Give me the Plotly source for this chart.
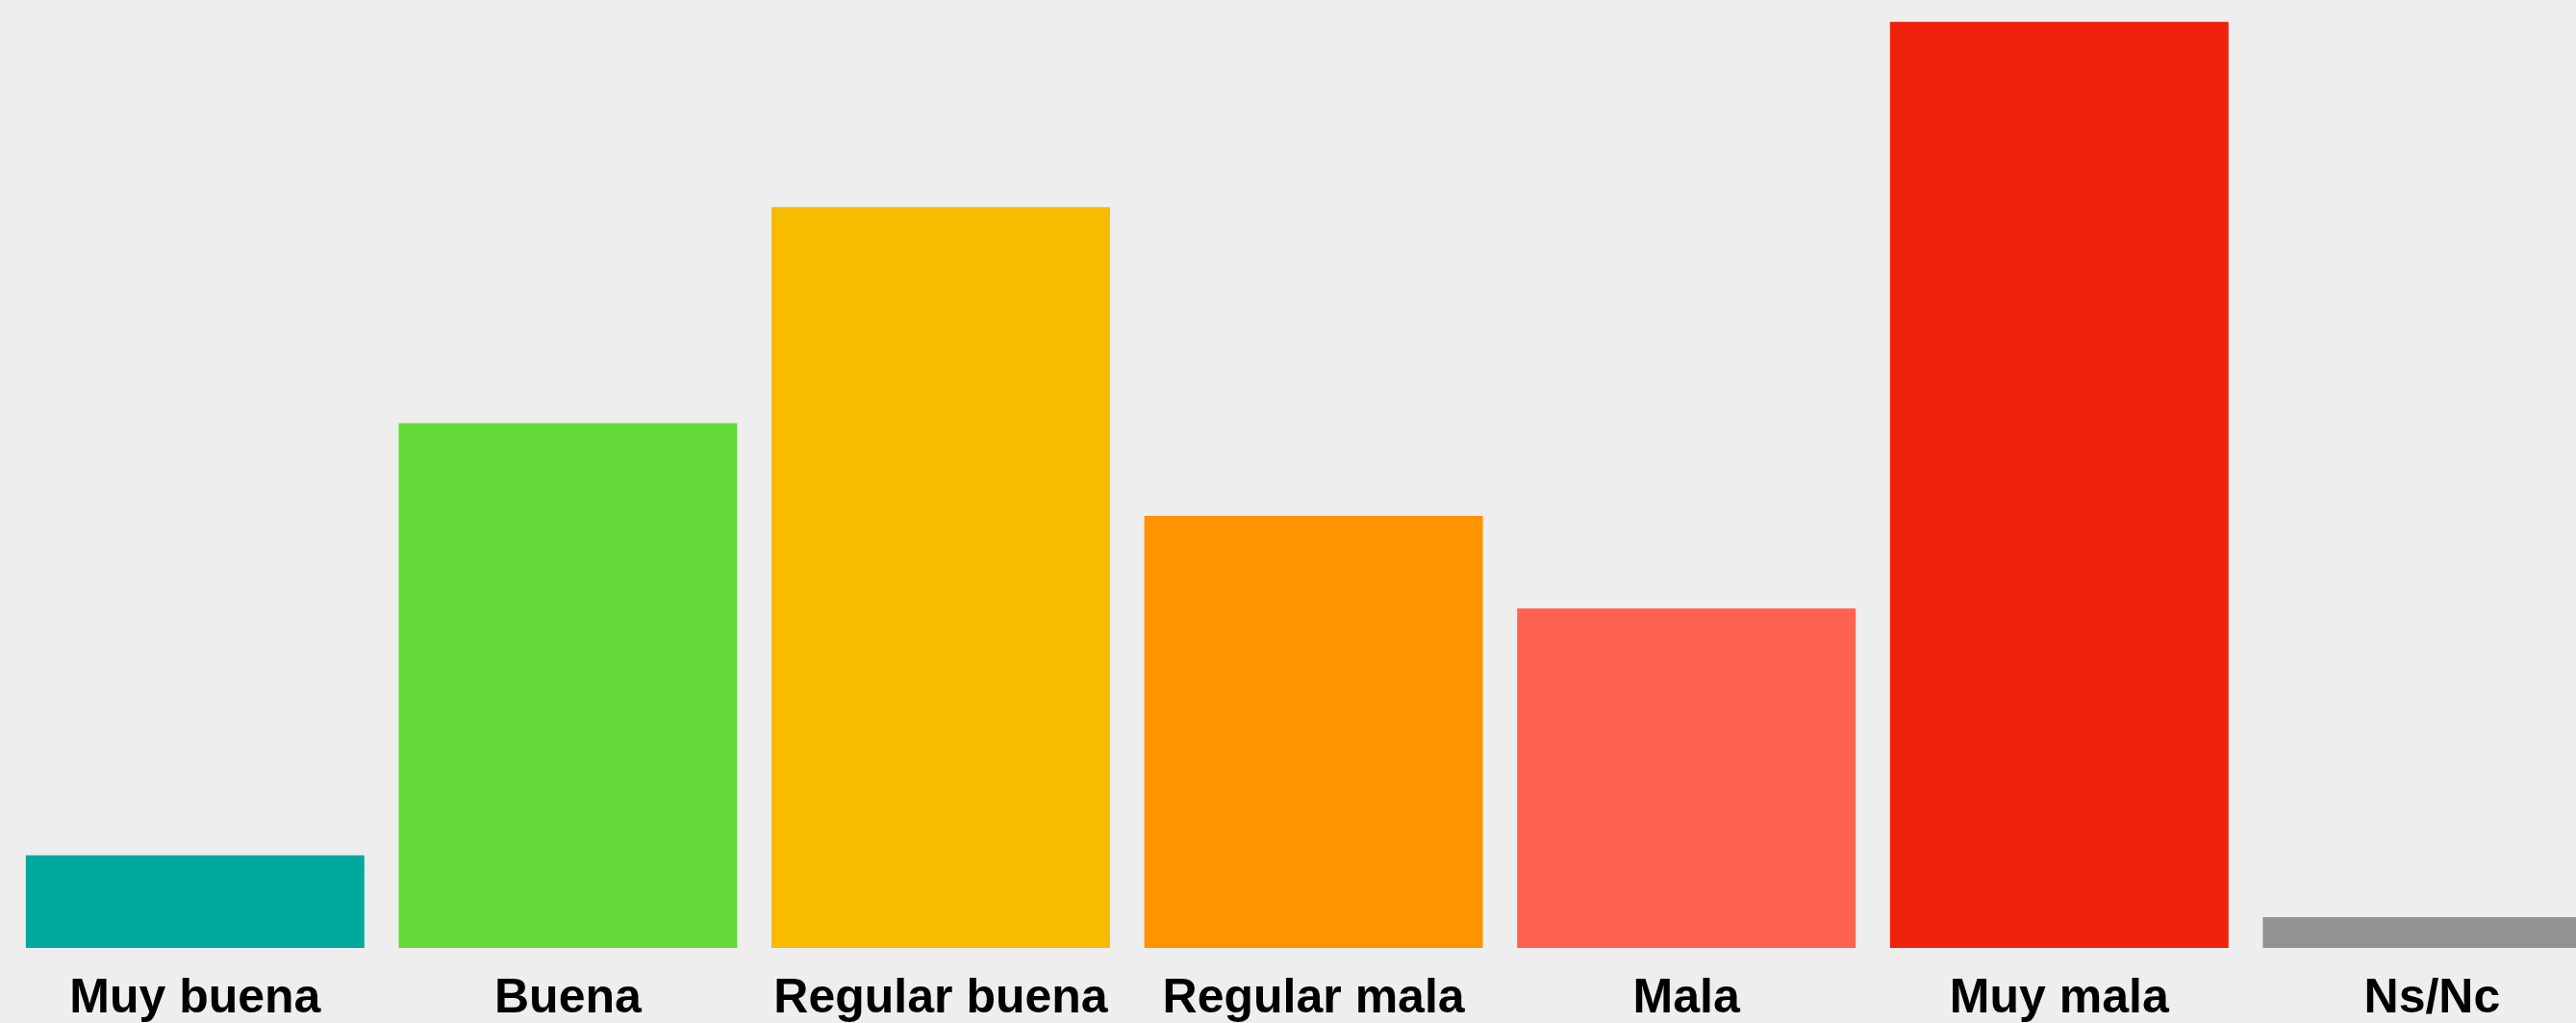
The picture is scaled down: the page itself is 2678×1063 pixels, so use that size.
import plotly.graph_objects as go

# Opinion categories and their share (%)
categories = ["Muy buena", "Buena", "Regular buena", "Regular mala", "Mala", "Muy mala", "Ns/Nc"]
values = [3, 17, 24, 14, 11, 30, 1]
colors = ["#00A99D", "#63DA38", "#F7BB00", "#FF9300", "#FF6250", "#EE220D", "#929292"]

fig = go.Figure(
    go.Bar(
        x=categories,
        y=values,
        marker=dict(color=colors, line=dict(width=0)),
        width=0.908,
        hoverinfo="x+y",
    )
)

fig.update_layout(
    width=2678,
    height=1063,
    margin=dict(l=9, r=0, t=0, b=71),
    paper_bgcolor="#EEEEEE",
    plot_bgcolor="#EEEEEE",
    showlegend=False,
    font=dict(family="Liberation Sans, Arial, sans-serif", color="#000000"),
)
fig.update_xaxes(
    range=[-0.5, 6.386],
    showgrid=False,
    zeroline=False,
    showline=False,
    ticks="",
    ticklabelstandoff=16,
    tickfont=dict(size=50, family="Liberation Sans, Arial, sans-serif", weight="bold"),
)
fig.update_yaxes(
    range=[0, 30.71],
    showgrid=False,
    zeroline=False,
    showline=False,
    showticklabels=False,
)

# drop the browser's default page margin so the chart fills the window
fig.write_html(
    "out.html",
    config={"displayModeBar": False},
    post_script="document.body.style.margin='0';document.body.style.overflow='hidden';",
)
